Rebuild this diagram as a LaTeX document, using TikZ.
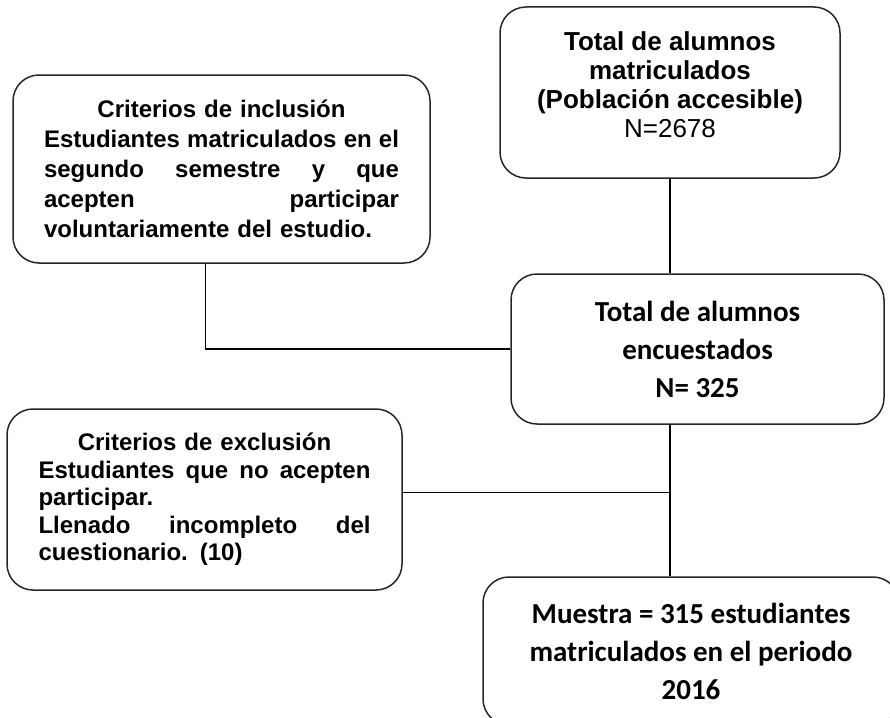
\documentclass[tikz,border=0pt]{standalone}
\usepackage{fontspec}
\setmainfont{Liberation Sans}
\newfontfamily\calibri{Carlito}
\usetikzlibrary{positioning}
\tikzset{
  frame/.style={rectangle, draw=black!85, rounded corners=26pt, line width=1.5pt, inner sep=0pt},
  link/.style={draw, line width=1.3pt},
  arialtxt/.style={font=\fontsize{24}{30}\selectfont\bfseries},
  calitxt/.style={font=\calibri\fontsize{29}{38}\selectfont\bfseries}
}
\begin{document}
\begin{tikzpicture}[x=1pt, y=-1pt]
\useasboundingbox (0,0) rectangle (890,717);
\clip (0,0) rectangle (890,717);

% boxes
\node [frame, minimum width=340pt, minimum height=171pt, align=center, font=\fontsize{26}{29}\selectfont] (poblacion) at (670,92.5)
{{\bfseries Total de alumnos}\\ {\bfseries matriculados}\\ {\bfseries (Población accesible)}\\ N=2678\rule[-16pt]{0pt}{1pt}};

\node [frame, minimum width=417pt, minimum height=188pt, text width=355pt, align=left, arialtxt] (inclusion) at (221.5,169)
{\makebox[\hsize]{Criterios de inclusión}\\
Estudiantes\hfill matriculados\hfill en\hfill el\\
segundo\hfill semestre\hfill y\hfill que\\
acepten\hfill participar\\
voluntariamente del estudio.};

\node [frame, minimum width=373pt, minimum height=150pt, align=center, calitxt] (encuestados) at (697.5,349)
{Total de alumnos\\ encuestados\\ N= 325};

\node [frame, minimum width=395pt, minimum height=181pt, text width=332pt, align=left, font=\fontsize{24}{27.5}\selectfont\bfseries] (exclusion) at (204.5,499.5)
{\makebox[\hsize]{Criterios de exclusión}\\
Estudiantes\hfill que\hfill no\hfill acepten\\
participar.\\
Llenado\hfill incompleto\hfill del\\
cuestionario. (10)};

\node [frame, minimum width=416pt, minimum height=148pt, align=center, calitxt] (muestra) at (691,651)
{Muestra = 315 estudiantes\\ matriculados en el periodo\\ 2016};

% lines
\draw [link] (poblacion.south) -- (poblacion.south |- encuestados.north);
\draw [link] ([xshift=-16pt]inclusion.south) |- (encuestados.west);
\draw [link] (encuestados.south -| poblacion.south) -- (muestra.north -| poblacion.south);
\draw [link] ([yshift=7pt]exclusion.east) -- ([yshift=7pt]exclusion.east -| poblacion.south);

\end{tikzpicture}
\end{document}
